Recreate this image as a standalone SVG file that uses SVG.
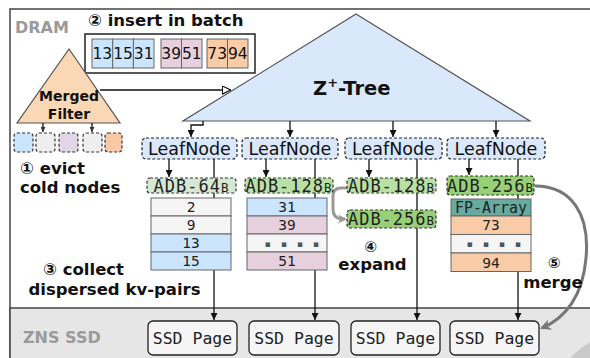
<svg xmlns="http://www.w3.org/2000/svg" width="590" height="358" viewBox="0 0 590 358">
  <defs>
    <marker id="ah" viewBox="0 0 10 10" refX="10" refY="5" markerWidth="7" markerHeight="7" markerUnits="userSpaceOnUse" orient="auto">
      <path d="M0,0 L10,5 L0,10 z" fill="#111"/>
    </marker>
    <marker id="ahs" viewBox="0 0 10 10" refX="10" refY="5" markerWidth="5" markerHeight="5" markerUnits="userSpaceOnUse" orient="auto">
      <path d="M0,0 L10,5 L0,10 z" fill="#333"/>
    </marker>
    <marker id="open" viewBox="0 0 10 10" refX="10" refY="5" markerWidth="9" markerHeight="9" markerUnits="userSpaceOnUse" orient="auto">
      <path d="M0.5,0.5 L9.5,5 L0.5,9.5 z" fill="#fff" stroke="#111" stroke-width="1.2"/>
    </marker>
    <marker id="gray" viewBox="0 0 10 10" refX="8" refY="5" markerWidth="9" markerHeight="9" markerUnits="userSpaceOnUse" orient="auto">
      <path d="M0,0 L10,5 L0,10 L3,5 z" fill="#999"/>
    </marker>
    <marker id="gray2" viewBox="0 0 10 10" refX="8" refY="5" markerWidth="11" markerHeight="11" markerUnits="userSpaceOnUse" orient="auto">
      <path d="M0,0 L10,5 L0,10 L3,5 z" fill="#777"/>
    </marker>
  </defs>
  <style>
    .lbl { font-family: "DejaVu Sans", "Noto Sans CJK JP", sans-serif; font-weight: bold; fill: #111; }
    .area { font-family: "DejaVu Sans", sans-serif; font-weight: bold; font-size: 16px; fill: #9a9a9a; }
    .sans { font-family: "DejaVu Sans", sans-serif; fill: #111; }
    .mono { font-family: "DejaVu Sans Mono", "Liberation Mono", monospace; fill: #222; }
    .dots { font-family: "DejaVu Sans", sans-serif; font-size: 9px; fill: #555; letter-spacing: 10px; }
    .leaf { fill: #dae8fc; stroke: #222; stroke-width: 1.2; stroke-dasharray: 3 2; }
    .dash { stroke: #333; stroke-width: 1.2; stroke-dasharray: 3 2; }
    .cell { stroke: #666; stroke-width: 1; }
    .wire { fill: none; stroke: #111; stroke-width: 1.3; }
    .page { fill: #f5f5f5; stroke: #222; stroke-width: 1.3; }
    .blue { fill: #cce5ff; }
    .pink { fill: #e6d0de; }
    .orng { fill: #f9cba6; }
    .grey { fill: #f5f5f5; }
  </style>

  <!-- memory tiers -->
  <rect x="10" y="9" width="600" height="360" fill="#fff" stroke="#444" stroke-width="1.5"/>
  <rect x="10" y="308" width="600" height="60" fill="#e6e6e6" stroke="#444" stroke-width="1.5"/>
  <circle cx="620" cy="400" r="65" fill="#c9c9c9"/>
  <text class="area" x="15" y="33">DRAM</text>
  <text class="area" x="23" y="343">ZNS SSD</text>

  <!-- batch of pending keys -->
  <g id="batch">
    <text class="lbl" x="88" y="26" font-size="16.5">② insert in batch</text>
    <rect x="85" y="34" width="170" height="39" fill="#fff" stroke="#222" stroke-width="1.5"/>
    <g class="cell">
      <rect class="blue" x="92" y="39" width="20.7" height="29"/>
      <rect class="blue" x="112.7" y="39" width="20.7" height="29"/>
      <rect class="blue" x="133.4" y="39" width="20.6" height="29"/>
      <rect class="pink" x="161" y="39" width="20.5" height="29"/>
      <rect class="pink" x="181.5" y="39" width="20.5" height="29"/>
      <rect class="orng" x="207" y="39" width="20.5" height="29"/>
      <rect class="orng" x="227.5" y="39" width="20.5" height="29"/>
    </g>
    <g class="sans" font-size="15.5" text-anchor="middle">
      <text x="102.3" y="59">13</text>
      <text x="123" y="59">15</text>
      <text x="143.7" y="59">31</text>
      <text x="171.2" y="59">39</text>
      <text x="191.8" y="59">51</text>
      <text x="217.2" y="59">73</text>
      <text x="237.8" y="59">94</text>
    </g>
  </g>

  <!-- merged filter -->
  <g id="filter">
    <polygon points="69,49 120,123 17,123" fill="#fad7b5" stroke="#555" stroke-width="1.2"/>
    <text class="lbl" x="69" y="101" font-size="14" text-anchor="middle">Merged</text>
    <text class="lbl" x="69" y="119" font-size="14" text-anchor="middle">Filter</text>
  </g>

  <!-- evicted cold nodes -->
  <g id="cold">
    <rect class="dash" x="14" y="133" width="19" height="19" rx="3" fill="#cce5ff"/>
    <rect class="dash" x="36" y="133" width="19" height="19" rx="3" fill="#eeeeee"/>
    <rect class="dash" x="59" y="133" width="19" height="19" rx="3" fill="#e1d5e7"/>
    <rect class="dash" x="83" y="133" width="19" height="19" rx="3" fill="#eeeeee"/>
    <rect class="dash" x="105" y="133" width="17" height="19" rx="3" fill="#f9c8a4"/>
    <text class="lbl" x="20" y="174" font-size="16.5">① evict</text>
    <text class="lbl" x="20" y="192.5" font-size="16.5">cold nodes</text>
  </g>

  <!-- Z+-Tree -->
  <g id="ztree">
    <polygon points="356,14 530,121 183,121" fill="#dae8fc" stroke="#555" stroke-width="1.2"/>
    <text class="lbl" x="313" y="95" font-size="19.5">Z<tspan font-size="13" dy="-8">+</tspan><tspan dy="8">-Tree</tspan></text>
  </g>

  <!-- connectors -->
  <g id="connectors">
    <path class="wire" d="M100,90 H231" marker-end="url(#open)"/>
    <path class="wire" d="M43,123 V132" stroke-width="1" marker-end="url(#ahs)"/>
    <path class="wire" d="M92,123 V132" stroke-width="1" marker-end="url(#ahs)"/>
    <path class="wire" d="M203,121 V125 H191 V137" marker-end="url(#ah)"/>
    <path class="wire" d="M290,121 V137" marker-end="url(#ah)"/>
    <path class="wire" d="M393,121 V137" marker-end="url(#ah)"/>
    <path class="wire" d="M496,121 V137" marker-end="url(#ah)"/>
    <path class="wire" d="M169,159 V177" marker-end="url(#ah)"/>
    <path class="wire" d="M266,159 V177" marker-end="url(#ah)"/>
    <path class="wire" d="M369,159 V177" marker-end="url(#ah)"/>
    <path class="wire" d="M469,159 V175" marker-end="url(#ah)"/>
    <path class="wire" d="M214,159 V320" marker-end="url(#ah)"/>
    <path class="wire" d="M315,159 V320" marker-end="url(#ah)"/>
    <path class="wire" d="M417,159 V320" marker-end="url(#ah)"/>
    <path class="wire" d="M518,159 V320" marker-end="url(#ah)"/>
    <path d="M347,188 H341 Q333,188 333,196 V209 Q333,218 341,219 L345,219" fill="none" stroke="#999" stroke-width="3" marker-end="url(#gray)"/>
    <path d="M535,186 C572,186 590,215 586,258 C583,295 566,318 542,328" fill="none" stroke="#777" stroke-width="3" marker-end="url(#gray2)"/>
  </g>

  <!-- leaf nodes -->
  <g id="leaf1"><rect class="leaf" x="142" y="138" width="95" height="21" rx="4"/><text class="sans" x="189.5" y="155" font-size="17.5" text-anchor="middle">LeafNode</text></g>
  <g id="leaf2"><rect class="leaf" x="242" y="138" width="96" height="21" rx="4"/><text class="sans" x="290" y="155" font-size="17.5" text-anchor="middle">LeafNode</text></g>
  <g id="leaf3"><rect class="leaf" x="345" y="138" width="97" height="21" rx="4"/><text class="sans" x="393.5" y="155" font-size="17.5" text-anchor="middle">LeafNode</text></g>
  <g id="leaf4"><rect class="leaf" x="447" y="138" width="98" height="21" rx="4"/><text class="sans" x="496" y="155" font-size="17.5" text-anchor="middle">LeafNode</text></g>

  <!-- column 1: ADB-64B -->
  <g id="adb1">
    <rect class="dash" x="147" y="178" width="89" height="15" rx="3" fill="#d5e8d4"/>
    <text class="mono" x="191.5" y="191.5" font-size="17" letter-spacing="1" text-anchor="middle" fill="#111">ADB-64<tspan font-size="12.5">B</tspan></text>
    <g class="cell">
      <rect class="grey" x="151" y="198" width="80" height="18"/>
      <rect class="grey" x="151" y="216" width="80" height="18"/>
      <rect class="blue" x="151" y="234" width="80" height="18"/>
      <rect class="blue" x="151" y="252" width="80" height="18"/>
    </g>
    <g class="mono" font-size="14.5" text-anchor="middle">
      <text x="191" y="212">2</text>
      <text x="191" y="230">9</text>
      <text x="191" y="248">13</text>
      <text x="191" y="266">15</text>
    </g>
  </g>

  <!-- column 2: ADB-128B -->
  <g id="adb2">
    <rect class="dash" x="245" y="178" width="88" height="15" rx="3" fill="#b9e0a5"/>
    <text class="mono" x="289" y="191.5" font-size="17" letter-spacing="1" text-anchor="middle" fill="#111">ADB-128<tspan font-size="12.5">B</tspan></text>
    <g class="cell">
      <rect class="blue" x="247" y="198" width="80" height="18"/>
      <rect class="pink" x="247" y="216" width="80" height="18"/>
      <rect class="grey" x="247" y="234" width="80" height="18"/>
      <rect class="pink" x="247" y="252" width="80" height="18"/>
    </g>
    <g class="mono" font-size="14.5" text-anchor="middle">
      <text x="287" y="212">31</text>
      <text x="287" y="230">39</text>
      <text x="287" y="266">51</text>
    </g>
    <text class="dots" x="297" y="246.5" text-anchor="middle">▪▪▪▪</text>
  </g>

  <!-- column 3: ADB-128B expanded into ADB-256B -->
  <g id="adb3">
    <rect class="dash" x="347" y="178" width="89" height="15" rx="3" fill="#b9e0a5"/>
    <text class="mono" x="391.5" y="191.5" font-size="17" letter-spacing="1" text-anchor="middle" fill="#111">ADB-128<tspan font-size="12.5">B</tspan></text>
  </g>
  <g id="adb3x">
    <rect class="dash" x="347" y="210" width="89" height="18" rx="3" fill="#97d077"/>
    <text class="mono" x="391.5" y="225" font-size="17" letter-spacing="1" text-anchor="middle" fill="#111">ADB-256<tspan font-size="12.5">B</tspan></text>
    <text class="lbl" x="370.5" y="252" font-size="15" text-anchor="middle">④</text>
    <text class="lbl" x="372.5" y="270" font-size="16.5" text-anchor="middle">expand</text>
  </g>

  <!-- column 4: ADB-256B with FP-Array -->
  <g id="adb4">
    <rect class="dash" x="447" y="176" width="87" height="19" rx="3" fill="#97d077"/>
    <text class="mono" x="490.5" y="191.5" font-size="17" letter-spacing="1" text-anchor="middle" fill="#111">ADB-256<tspan font-size="12.5">B</tspan></text>
    <g class="cell">
      <rect x="451" y="199" width="80" height="17" fill="#67ab9f"/>
      <rect class="orng" x="451" y="216" width="80" height="18.5"/>
      <rect class="grey" x="451" y="234.5" width="80" height="18.5"/>
      <rect class="orng" x="451" y="253" width="80" height="18.5"/>
    </g>
    <text class="mono" x="491" y="213" font-size="15" text-anchor="middle" fill="#333">FP-Array</text>
    <g class="mono" font-size="14.5" text-anchor="middle">
      <text x="491" y="230">73</text>
      <text x="491" y="267.5">94</text>
    </g>
    <text class="dots" x="499" y="247" text-anchor="middle">▪▪▪▪</text>
    <text class="lbl" x="554" y="268" font-size="15" text-anchor="middle">⑤</text>
    <text class="lbl" x="553" y="288" font-size="16.5" text-anchor="middle">merge</text>
  </g>

  <g id="collect">
    <text class="lbl" x="43" y="275" font-size="16.5">③ collect</text>
    <text class="lbl" x="114.5" y="295" font-size="16.5" text-anchor="middle">dispersed kv-pairs</text>
  </g>

  <!-- SSD pages -->
  <g id="page1"><rect class="page" x="148" y="321" width="89" height="34" rx="5"/><text class="mono" x="192.5" y="344" font-size="16.5" text-anchor="middle" fill="#111">SSD Page</text></g>
  <g id="page2"><rect class="page" x="249" y="321" width="90" height="34" rx="5"/><text class="mono" x="294" y="344" font-size="16.5" text-anchor="middle" fill="#111">SSD Page</text></g>
  <g id="page3"><rect class="page" x="351" y="321" width="89" height="34" rx="5"/><text class="mono" x="395.5" y="344" font-size="16.5" text-anchor="middle" fill="#111">SSD Page</text></g>
  <g id="page4"><rect class="page" x="450" y="321" width="89" height="34" rx="5"/><text class="mono" x="494.5" y="344" font-size="16.5" text-anchor="middle" fill="#111">SSD Page</text></g>
</svg>
